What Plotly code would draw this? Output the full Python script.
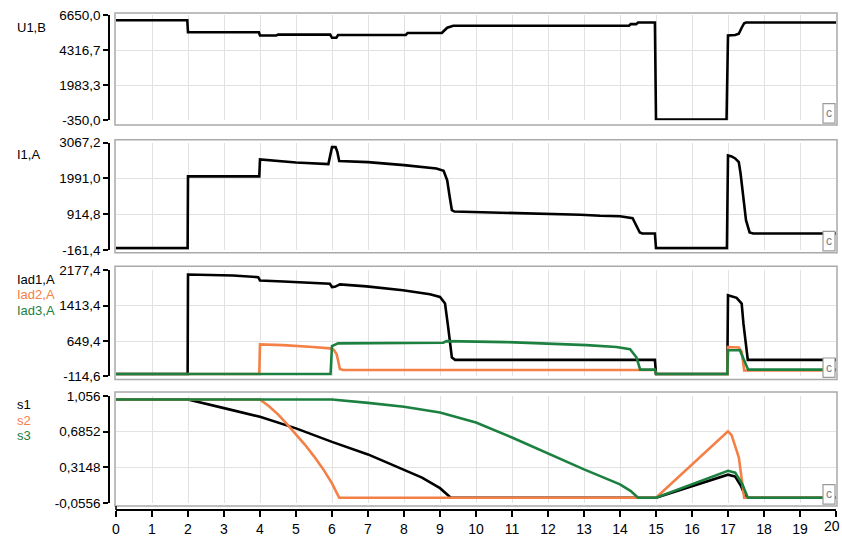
import plotly.graph_objects as go

# ---------------- data ----------------
t_u1 = [0, 1.98, 2.0, 3.97, 4.0, 4.45, 4.5, 5.95, 6.0, 6.12, 6.17, 8.05, 8.1, 9.05, 9.2, 9.37,
        14.25, 14.3, 14.45, 14.5, 14.97, 15.0, 16.96, 17.0, 17.2, 17.3, 17.38, 17.45, 17.5, 20]
u1 = [6300, 6300, 5500, 5500, 5280, 5280, 5340, 5340, 5130, 5130, 5320, 5320, 5450, 5450, 5800, 5930,
      5930, 6040, 6040, 6150, 6150, -300, -300, 5280, 5320, 5400, 5800, 6100, 6150, 6150]

t_i1 = [0, 1.99, 2.0, 3.98, 4.0, 5.0, 5.9, 5.95, 6.0, 6.1, 6.15, 6.2, 7.0, 8.0, 8.9, 9.1, 9.2, 9.27,
        9.33, 9.4, 10.1, 11.2, 12.9, 13.45, 14.0, 14.35, 14.45, 14.55, 14.62, 14.97, 15.0, 16.97,
        17.0, 17.1, 17.2, 17.3, 17.35, 17.42, 17.5, 17.6, 17.7, 20]
i1 = [-110, -110, 2050, 2050, 2560, 2470, 2420, 2630, 2930, 2930, 2780, 2510, 2480, 2390, 2290, 2220,
      1930, 1430, 1030, 990, 974, 935, 895, 865, 848, 790, 590, 360, 330, 330, -110, -110,
      2680, 2650, 2590, 2480, 2130, 1430, 730, 360, 330, 330]

t_a1 = [0, 1.99, 2.0, 3.25, 3.95, 4.0, 4.65, 5.4, 5.94, 6.0, 6.08, 6.22, 6.96, 7.97, 8.72, 9.0, 9.14,
        9.23, 9.33, 9.42, 14.97, 15.0, 16.98, 17.0, 17.24, 17.38, 17.43, 17.55, 20]
a1 = [-60, -60, 2085, 2064, 2028, 1957, 1936, 1906, 1886, 1815, 1820, 1872, 1830, 1745, 1660, 1603, 1460,
      930, 294, 245, 245, -60, -60, 1640, 1582, 1460, 1020, 245, 245]

t_a2 = [0, 3.98, 4.0, 4.64, 5.47, 5.94, 6.05, 6.13, 6.22, 6.3, 14.97, 15.0, 16.98, 17.0, 17.3, 17.38,
        17.45, 20]
a2 = [-60, -60, 578, 563, 521, 493, 460, 366, 48, 27, 27, -60, -60, 521, 510, 420, 15, 15]

t_a3 = [0, 5.96, 6.0, 6.17, 9.09, 9.18, 10.85, 12.33, 13.07, 13.9, 14.28, 14.46, 14.56, 14.97, 15.0,
        16.98, 17.0, 17.33, 17.43, 17.56, 20]
a3 = [-60, -60, 542, 599, 613, 648, 627, 591, 563, 521, 472, 294, 33, 33, -60, -60, 451, 451, 270, 33, 33]

t_s1 = [0, 2.0, 3.0, 4.0, 5.0, 6.0, 7.0, 8.0, 8.5, 9.0, 9.2, 9.3, 15.0, 17.0, 17.2, 17.35, 17.5, 20]
s1 = [1.02, 1.02, 0.93, 0.84, 0.72, 0.58, 0.45, 0.29, 0.21, 0.10, 0.03, 0.0, 0.0, 0.24, 0.22, 0.13,
      0.0, 0.0]

t_s2 = [0, 4.0, 4.25, 4.5, 4.75, 5.0, 5.25, 5.5, 5.75, 6.0, 6.2, 15.0, 17.0, 17.1, 17.3, 17.45, 20]
s2 = [1.02, 1.02, 0.95, 0.865, 0.765, 0.66, 0.55, 0.43, 0.30, 0.15, 0.0, 0.0, 0.69, 0.65, 0.42,
      0.0, 0.0]

t_s3 = [0, 6.0, 7.0, 8.0, 9.0, 10.0, 11.0, 12.0, 13.0, 14.0, 14.3, 14.5, 15.0, 17.0, 17.2, 17.4, 17.55, 20]
s3 = [1.02, 1.02, 0.985, 0.945, 0.885, 0.78, 0.625, 0.46, 0.295, 0.14, 0.07, 0.0, 0.0, 0.28, 0.26, 0.14,
      0.0, 0.0]

panel_titles = [["U1,B"], ["I1,A"], ["Iad1,A", "Iad2,A", "Iad3,A"], ["s1", "s2", "s3"]]
y_ticks = [[-350.0, 1983.3, 4316.7, 6650.0],
           [-161.4, 914.8, 1991.0, 3067.2],
           [-114.6, 649.4, 1413.4, 2177.4],
           [-0.0556, 0.3148, 0.6852, 1.056]]
y_ticktext = [["-350,0", "1983,3", "4316,7", "6650,0"],
              ["-161,4", "914,8", "1991,0", "3067,2"],
              ["-114,6", "649,4", "1413,4", "2177,4"],
              ["-0,0556", "0,3148", "0,6852", "1,056"]]
x_ticks = list(range(0, 21))
x_ticktext = [str(v) for v in x_ticks]

# ---------------- styling / geometry ----------------
W, H = 842, 543
ML, MR, MT, MB = 109, 6, 13, 20
PW, PH = W - ML - MR, H - MT - MB
AXIS_Y = MT + PH
BLACK, ORANGE, GREEN = "#000000", "#F48046", "#1C8040"
FONT = "Liberation Sans, Arial, sans-serif"
GRID = "#e2e2e2"
FRAME = "#a9a9a9"
XFS = 14


def px(x):
    return (x - ML) / PW


def py(y):
    return (MT + PH - y) / PH


data_px = [(15, 123), (146, 256), (277, 386), (406, 516)]   # top, bottom of value range
frame_px = [(13, 128), (143, 259), (273, 389), (402, 519)]
x_left, x_right = 116, 836

series = [
    [(t_u1, u1, BLACK)],
    [(t_i1, i1, BLACK)],
    [(t_a1, a1, BLACK), (t_a2, a2, ORANGE), (t_a3, a3, GREEN)],
    [(t_s1, s1, BLACK), (t_s2, s2, ORANGE), (t_s3, s3, GREEN)],
]
label_colors = [BLACK, ORANGE, GREEN]

fig = go.Figure()
layout = dict(width=W, height=H, margin=dict(l=ML, r=MR, t=MT, b=MB),
              paper_bgcolor="white", plot_bgcolor="white", showlegend=False,
              font=dict(family=FONT, size=13, color="#000"))
shapes, annotations = [], []

for i in range(4):
    k = "" if i == 0 else str(i + 1)
    for (tx, vy, col) in series[i]:
        fig.add_trace(go.Scatter(x=tx, y=vy, mode="lines", line=dict(color=col, width=2.6),
                                 xaxis="x" + k, yaxis="y" + k, hoverinfo="skip"))
    top, bot = data_px[i]
    xa = dict(domain=[px(x_left), px(x_right)], range=[0, 20.0001], anchor="y" + k,
              showgrid=True, gridcolor=GRID, gridwidth=1, tickvals=x_ticks,
              zeroline=False, showline=False, ticks="", showticklabels=False)
    if i == 3:
        # last label ("20") touches the page edge; it is drawn as an annotation below
        xa.update(anchor="free", position=0, showline=True, linecolor=BLACK, linewidth=1.5,
                  ticks="outside", ticklen=6, tickwidth=1.5, tickcolor=BLACK,
                  showticklabels=True, ticktext=x_ticktext[:-1] + [""],
                  tickfont=dict(size=XFS, family=FONT))
    ya = dict(domain=[py(bot), py(top)], range=[y_ticks[i][0], y_ticks[i][-1]],
              anchor="free", position=0, showline=True, linecolor=BLACK, linewidth=1.5,
              ticks="outside", ticklen=5, tickwidth=1.5, tickcolor=BLACK,
              tickvals=y_ticks[i], ticktext=y_ticktext[i], showgrid=True, gridcolor=GRID,
              zeroline=False, tickfont=dict(size=13.5, family=FONT))
    layout["xaxis" + k] = xa
    layout["yaxis" + k] = ya

    ft, fb = frame_px[i]
    shapes.append(dict(type="rect", xref="paper", yref="paper", x0=px(115), x1=px(837),
                       y0=py(fb), y1=py(ft), line=dict(color=FRAME, width=1.5)))
    # "c" box
    shapes.append(dict(type="rect", xref="paper", yref="paper", x0=px(823), x1=px(835),
                       y0=py(fb - 2), y1=py(fb - 22), fillcolor="white",
                       line=dict(color="#9a9a9a", width=1.2)))
    annotations.append(dict(x=px(829), y=py(fb - 12), xref="paper", yref="paper", text="c",
                            showarrow=False, font=dict(size=12, color="#7a7a7a", family=FONT),
                            xanchor="center", yanchor="middle"))
    # panel labels
    for j, name in enumerate(panel_titles[i]):
        ly = [28, 158, 286, 415][i] + j * 16
        annotations.append(dict(x=px(15), y=py(ly), xref="paper", yref="paper", text=name,
                                showarrow=False, xanchor="left", yanchor="middle",
                                font=dict(size=13, color=label_colors[j], family=FONT)))

# label of the last time tick, right-aligned to the page edge
annotations.append(dict(x=px(W), y=py(AXIS_Y + 6 + 2 + 0.36 * XFS + 3.5), xref="paper", yref="paper",
                        text=x_ticktext[-1], showarrow=False, xanchor="right", yanchor="middle",
                        font=dict(size=XFS, family=FONT, color=BLACK)))

# small upward hook of the time axis at 0
shapes.append(dict(type="line", xref="paper", yref="paper", x0=px(x_left), x1=px(x_left),
                   y0=py(AXIS_Y), y1=py(AXIS_Y - 4), line=dict(color=BLACK, width=1.5)))

layout["shapes"] = shapes
layout["annotations"] = annotations
fig.update_layout(**layout)
fig.write_html("out.html", config={"displayModeBar": False},
               post_script="document.body.style.margin='0';document.body.style.padding='0';"
                           "document.body.style.overflow='hidden';")
